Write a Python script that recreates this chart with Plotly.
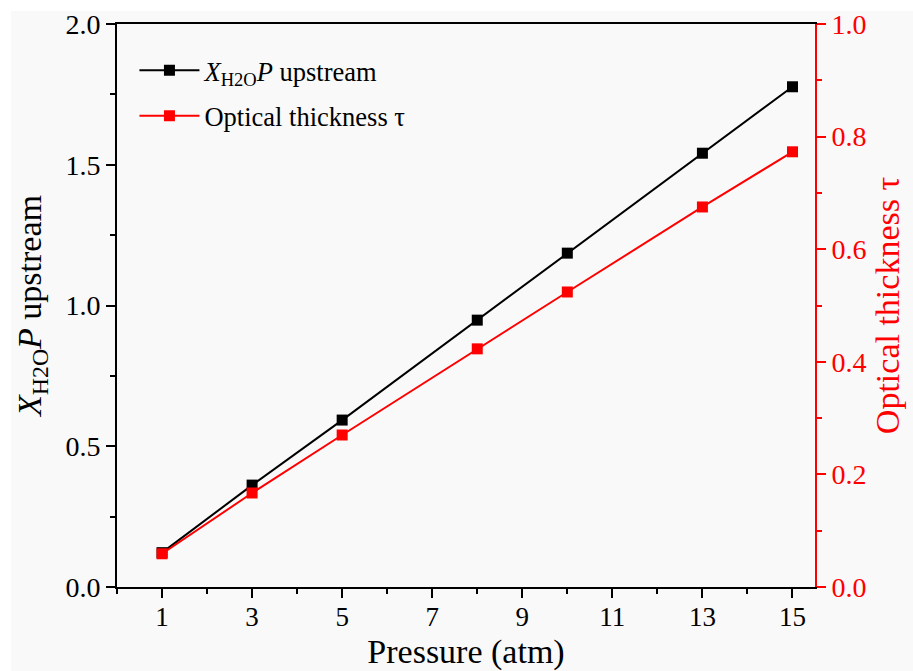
import plotly.graph_objects as go

pressure = [1, 3, 5, 8, 10, 13, 15]
xh2o_p = [0.122, 0.362, 0.593, 0.948, 1.186, 1.541, 1.777]
tau = [0.059, 0.167, 0.270, 0.423, 0.524, 0.675, 0.773]
x_ticks = [1, 3, 5, 7, 9, 11, 13, 15]

FONT = "Liberation Serif, Times New Roman, serif"
BG = "#f9f9f9"
W, H = 913, 671
ML, MR, MT, MB = 117, 98, 24, 84
PW, PH = W - ML - MR, H - MT - MB

fig = go.Figure()
fig.add_trace(go.Scatter(
    x=pressure, y=xh2o_p, mode="lines+markers",
    name="<i>X</i><sub>H2O</sub><i>P</i> upstream", legendgroup="a",
    line=dict(color="black", width=2),
    marker=dict(symbol="square", size=11, color="black"),
))
fig.add_trace(go.Scatter(
    x=pressure, y=tau, mode="lines+markers", yaxis="y2",
    name="Optical thickness τ", legendgroup="b",
    line=dict(color="#ff0000", width=2),
    marker=dict(symbol="square", size=11, color="#ff0000"),
))

# white page border strips (top and left) as in the reference screenshot
fig.add_shape(type="rect", xref="paper", yref="paper", layer="below",
              x0=-ML / PW, x1=(W - ML) / PW, y0=1 + (MT - 11) / PH, y1=1 + MT / PH,
              fillcolor="white", line=dict(width=0))
fig.add_shape(type="rect", xref="paper", yref="paper", layer="below",
              x0=-ML / PW, x1=-(ML - 11) / PW, y0=-MB / PH, y1=1 + MT / PH,
              fillcolor="white", line=dict(width=0))

fig.update_layout(
    width=W, height=H,
    margin=dict(l=ML, r=MR, t=MT, b=MB, autoexpand=False),
    paper_bgcolor=BG, plot_bgcolor=BG,
    font=dict(family=FONT, size=27, color="black"),
    showlegend=True,
    legend=dict(x=0.025, y=0.96, xanchor="left", yanchor="top",
                bgcolor="rgba(0,0,0,0)", font=dict(size=26.5, family=FONT),
                itemwidth=60, tracegroupgap=8),
    xaxis=dict(
        range=[0, 15.5], tickvals=x_ticks, ticks="outside", ticklen=9, tickwidth=2,
        tickcolor="black", showline=True, linecolor="black", linewidth=2,
        mirror=True, showgrid=False, zeroline=False, automargin=False,
        ticklabelstandoff=-4,
        minor=dict(tickvals=[0, 2, 4, 6, 8, 10, 12, 14], ticks="outside", ticklen=5, tickwidth=2, tickcolor="black"),
        title=dict(text="Pressure (atm)", font=dict(size=34, family=FONT), standoff=26),
        tickfont=dict(size=27, family=FONT),
    ),
    yaxis=dict(
        range=[0, 2.0], dtick=0.5, tickformat=".1f", ticks="outside", ticklen=9, tickwidth=2,
        tickcolor="black", showline=True, linecolor="black", linewidth=2,
        showgrid=False, zeroline=False, automargin=False,
        minor=dict(dtick=0.25, ticks="outside", ticklen=5, tickwidth=2, tickcolor="black"),
        title=dict(text="<i>X</i><sub>H2O</sub><i>P</i> upstream", font=dict(size=34, family=FONT), standoff=14),
        tickfont=dict(size=28, family=FONT),
    ),
    yaxis2=dict(
        overlaying="y", side="right", anchor="x",
        range=[0, 1.0], dtick=0.2, tickformat=".1f", ticks="outside", ticklen=9, tickwidth=2,
        tickcolor="#ff0000", showline=True, linecolor="#ff0000", linewidth=2,
        showgrid=False, zeroline=False, automargin=False,
        minor=dict(dtick=0.1, ticks="outside", ticklen=5, tickwidth=2, tickcolor="#ff0000"),
        title=dict(text="Optical thickness τ", font=dict(size=34, family=FONT, color="#ff0000"), standoff=10),
        tickfont=dict(size=28, family=FONT, color="#ff0000"),
    ),
)

fig.write_html("out.html")
